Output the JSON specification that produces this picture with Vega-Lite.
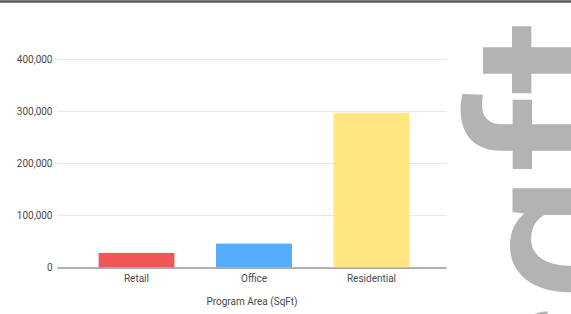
{
  "$schema": "https://vega.github.io/schema/vega-lite/v6.json",
  "autosize": {"type": "none"},
  "padding": {"left": 57, "top": 59, "right": 125, "bottom": 46.5},
  "width": 389,
  "height": 208.5,
  "background": "#ffffff",
  "config": {
    "view": {"stroke": null},
    "font": "Roboto",
    "axis": {"labelFont": "Roboto", "titleFont": "Roboto"}
  },
  "datasets": {
    "bars": [
      {"area": "Retail", "sqft": 29000},
      {"area": "Office", "sqft": 46500},
      {"area": "Residential", "sqft": 297500}
    ],
    "deco": [{"word": "sqft", "level": 476000, "edge": 510100}]
  },
  "layer": [
    {
      "data": {"name": "bars"},
      "mark": {"type": "bar", "cornerRadiusTopLeft": 1.5, "cornerRadiusTopRight": 1.5},
      "encoding": {
        "x": {
          "field": "area",
          "type": "nominal",
          "sort": ["Retail", "Office", "Residential"],
          "scale": {"paddingInner": 0.35, "paddingOuter": 0.33, "align": 0.532},
          "axis": {
            "title": "Program Area (SqFt)",
            "labelAngle": 0,
            "labelFontSize": 10,
            "labelColor": "#4a4a4a",
            "labelPadding": 6,
            "ticks": false,
            "domainColor": "#6e6e6e",
            "domainWidth": 1.2,
            "titleFontSize": 10,
            "titleFontWeight": "normal",
            "titleColor": "#4a4a4a",
            "titlePadding": 13
          }
        },
        "y": {
          "field": "sqft",
          "type": "quantitative",
          "scale": {"domain": [0, 400000], "nice": false},
          "axis": {
            "title": null,
            "values": [0, 100000, 200000, 300000, 400000],
            "format": ",d",
            "domain": false,
            "ticks": false,
            "labelPadding": 5,
            "labelFontSize": 10,
            "labelColor": "#4a4a4a",
            "gridColor": "#e6e6e6",
            "gridWidth": 1
          }
        },
        "color": {
          "field": "area",
          "type": "nominal",
          "scale": {
            "domain": ["Retail", "Office", "Residential"],
            "range": ["#f25558", "#55aefc", "#ffe680"]
          },
          "legend": null
        }
      }
    },
    {
      "data": {"name": "deco"},
      "mark": {
        "type": "text",
        "angle": 270,
        "align": "right",
        "baseline": "alphabetic",
        "fontSize": 225,
        "fontWeight": 500,
        "font": "Roboto",
        "fill": "#b3b3b3"
      },
      "encoding": {
        "x": {"datum": "Residential", "bandPosition": 3.9},
        "y": {"field": "level", "type": "quantitative"},
        "text": {"field": "word"}
      }
    },
    {
      "data": {"name": "deco"},
      "mark": {"type": "rule", "stroke": "#585858", "strokeWidth": 2.5},
      "encoding": {
        "x": {"datum": "Retail", "bandPosition": -3},
        "x2": {"datum": "Residential", "bandPosition": 5},
        "y": {"field": "edge", "type": "quantitative"}
      }
    }
  ]
}
